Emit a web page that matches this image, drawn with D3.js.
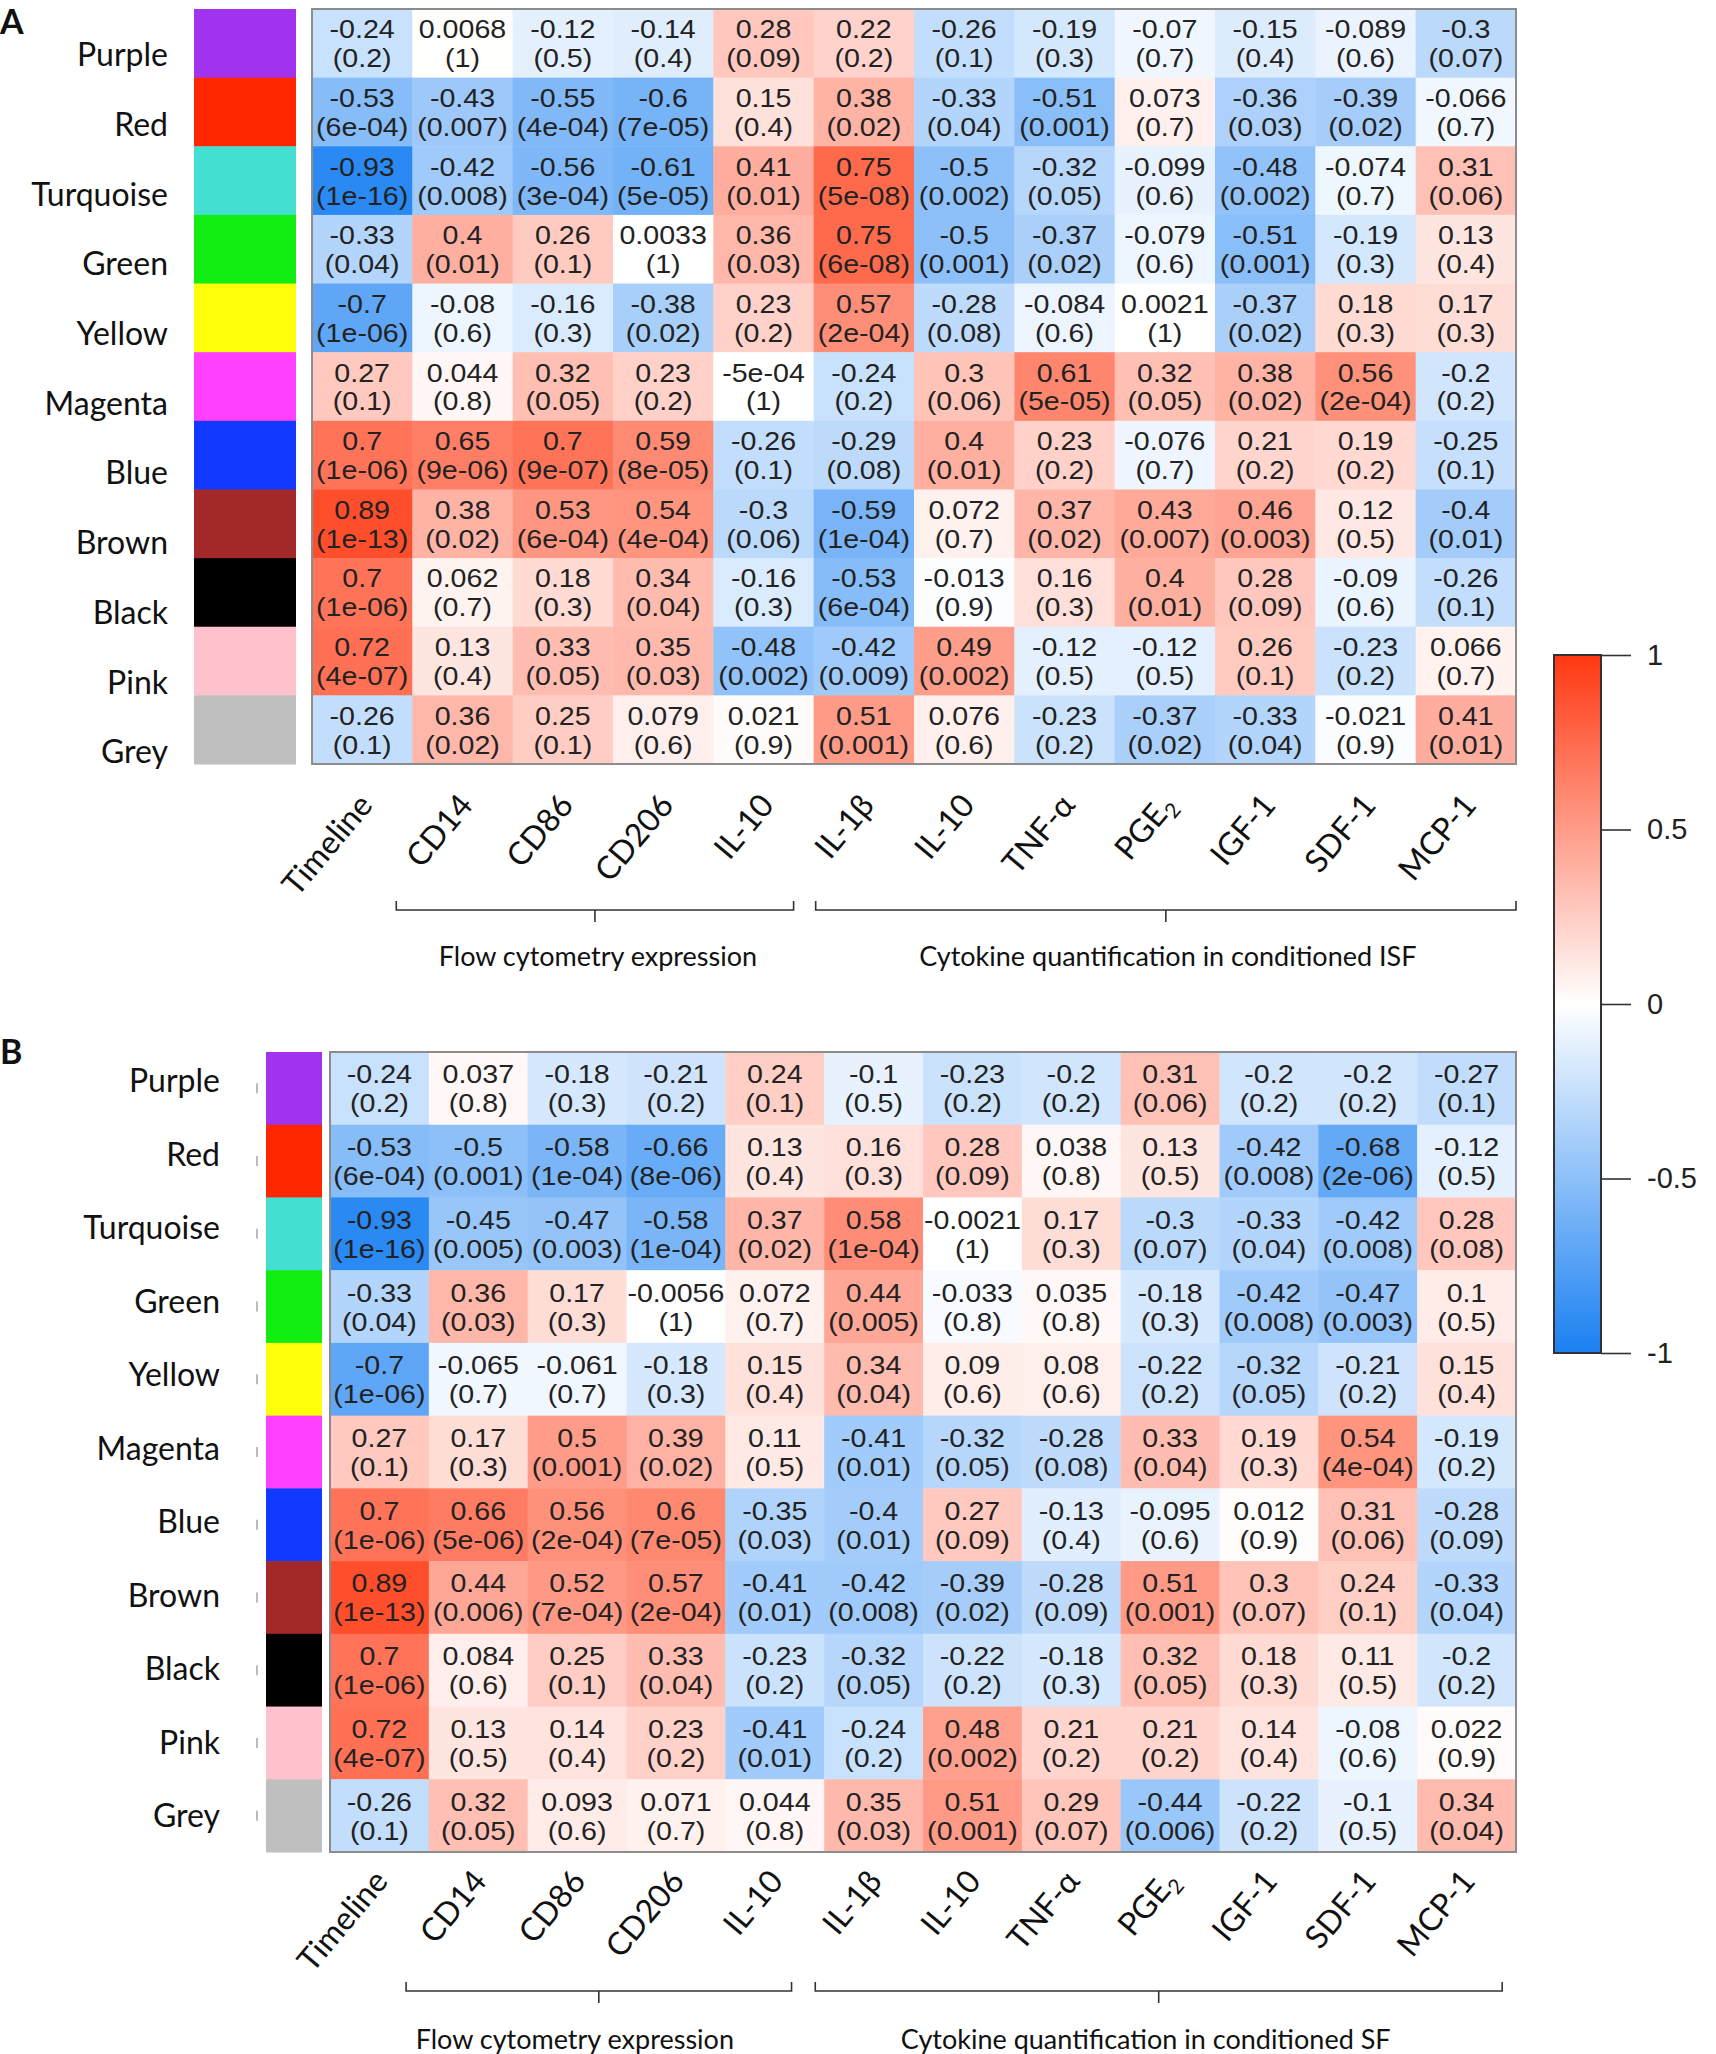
<!DOCTYPE html>
<html>
<head>
<meta charset="utf-8">
<title>Module-trait correlation heatmaps</title>
<style>
  body { margin: 0; background: #fff; }
  svg { display: block; }
  .num { font-family: "Liberation Sans", Arial, sans-serif; fill: #222; font-size: 26px; }
  .lab { font-family: Lato, "Open Sans", sans-serif; fill: #111; }
  .cbar text { font-family: "Liberation Sans", Arial, sans-serif; font-size: 29px; fill: #222; }
</style>
<script src="https://d3js.org/d3.v7.min.js"></script>
</head>
<body>
<script>
// modules (rows) and their swatch colours
var modules = ["Purple", "Red", "Turquoise", "Green", "Yellow", "Magenta", "Blue", "Brown", "Black", "Pink", "Grey"];
var moduleColors = ["#a133ef", "#ff2600", "#43e0d2", "#12ee12", "#ffff0a", "#ff40ff", "#1038ff", "#a3282a", "#000000", "#ffc2cc", "#bfbfbf"];

// traits (columns)
var traits = ["Timeline", "CD14", "CD86", "CD206", "IL-10", "IL-1β", "IL-10", "TNF-α", "PGE2", "IGF-1", "SDF-1", "MCP-1"];
var groupsA = ["Flow cytometry expression", "Cytokine quantification in conditioned ISF"];
var groupsB = ["Flow cytometry expression", "Cytokine quantification in conditioned SF"];
var colorTicks = [1, 0.5, 0, -0.5, -1];

// panel A: correlation and p-value
var corA = [
  [-0.24, 0.0068, -0.12, -0.14, 0.28, 0.22, -0.26, -0.19, -0.07, -0.15, -0.089, -0.3],
  [-0.53, -0.43, -0.55, -0.6, 0.15, 0.38, -0.33, -0.51, 0.073, -0.36, -0.39, -0.066],
  [-0.93, -0.42, -0.56, -0.61, 0.41, 0.75, -0.5, -0.32, -0.099, -0.48, -0.074, 0.31],
  [-0.33, 0.4, 0.26, 0.0033, 0.36, 0.75, -0.5, -0.37, -0.079, -0.51, -0.19, 0.13],
  [-0.7, -0.08, -0.16, -0.38, 0.23, 0.57, -0.28, -0.084, 0.0021, -0.37, 0.18, 0.17],
  [0.27, 0.044, 0.32, 0.23, -5e-4, -0.24, 0.3, 0.61, 0.32, 0.38, 0.56, -0.2],
  [0.7, 0.65, 0.7, 0.59, -0.26, -0.29, 0.4, 0.23, -0.076, 0.21, 0.19, -0.25],
  [0.89, 0.38, 0.53, 0.54, -0.3, -0.59, 0.072, 0.37, 0.43, 0.46, 0.12, -0.4],
  [0.7, 0.062, 0.18, 0.34, -0.16, -0.53, -0.013, 0.16, 0.4, 0.28, -0.09, -0.26],
  [0.72, 0.13, 0.33, 0.35, -0.48, -0.42, 0.49, -0.12, -0.12, 0.26, -0.23, 0.066],
  [-0.26, 0.36, 0.25, 0.079, 0.021, 0.51, 0.076, -0.23, -0.37, -0.33, -0.021, 0.41]
];
var pA = [
  [0.2, 1, 0.5, 0.4, 0.09, 0.2, 0.1, 0.3, 0.7, 0.4, 0.6, 0.07],
  [6e-4, 0.007, 4e-4, 7e-5, 0.4, 0.02, 0.04, 0.001, 0.7, 0.03, 0.02, 0.7],
  [1e-16, 0.008, 3e-4, 5e-5, 0.01, 5e-8, 0.002, 0.05, 0.6, 0.002, 0.7, 0.06],
  [0.04, 0.01, 0.1, 1, 0.03, 6e-8, 0.001, 0.02, 0.6, 0.001, 0.3, 0.4],
  [1e-6, 0.6, 0.3, 0.02, 0.2, 2e-4, 0.08, 0.6, 1, 0.02, 0.3, 0.3],
  [0.1, 0.8, 0.05, 0.2, 1, 0.2, 0.06, 5e-5, 0.05, 0.02, 2e-4, 0.2],
  [1e-6, 9e-6, 9e-7, 8e-5, 0.1, 0.08, 0.01, 0.2, 0.7, 0.2, 0.2, 0.1],
  [1e-13, 0.02, 6e-4, 4e-4, 0.06, 1e-4, 0.7, 0.02, 0.007, 0.003, 0.5, 0.01],
  [1e-6, 0.7, 0.3, 0.04, 0.3, 6e-4, 0.9, 0.3, 0.01, 0.09, 0.6, 0.1],
  [4e-7, 0.4, 0.05, 0.03, 0.002, 0.009, 0.002, 0.5, 0.5, 0.1, 0.2, 0.7],
  [0.1, 0.02, 0.1, 0.6, 0.9, 0.001, 0.6, 0.2, 0.02, 0.04, 0.9, 0.01]
];

// panel B: correlation and p-value
var corB = [
  [-0.24, 0.037, -0.18, -0.21, 0.24, -0.1, -0.23, -0.2, 0.31, -0.2, -0.2, -0.27],
  [-0.53, -0.5, -0.58, -0.66, 0.13, 0.16, 0.28, 0.038, 0.13, -0.42, -0.68, -0.12],
  [-0.93, -0.45, -0.47, -0.58, 0.37, 0.58, -0.0021, 0.17, -0.3, -0.33, -0.42, 0.28],
  [-0.33, 0.36, 0.17, -0.0056, 0.072, 0.44, -0.033, 0.035, -0.18, -0.42, -0.47, 0.1],
  [-0.7, -0.065, -0.061, -0.18, 0.15, 0.34, 0.09, 0.08, -0.22, -0.32, -0.21, 0.15],
  [0.27, 0.17, 0.5, 0.39, 0.11, -0.41, -0.32, -0.28, 0.33, 0.19, 0.54, -0.19],
  [0.7, 0.66, 0.56, 0.6, -0.35, -0.4, 0.27, -0.13, -0.095, 0.012, 0.31, -0.28],
  [0.89, 0.44, 0.52, 0.57, -0.41, -0.42, -0.39, -0.28, 0.51, 0.3, 0.24, -0.33],
  [0.7, 0.084, 0.25, 0.33, -0.23, -0.32, -0.22, -0.18, 0.32, 0.18, 0.11, -0.2],
  [0.72, 0.13, 0.14, 0.23, -0.41, -0.24, 0.48, 0.21, 0.21, 0.14, -0.08, 0.022],
  [-0.26, 0.32, 0.093, 0.071, 0.044, 0.35, 0.51, 0.29, -0.44, -0.22, -0.1, 0.34]
];
var pB = [
  [0.2, 0.8, 0.3, 0.2, 0.1, 0.5, 0.2, 0.2, 0.06, 0.2, 0.2, 0.1],
  [6e-4, 0.001, 1e-4, 8e-6, 0.4, 0.3, 0.09, 0.8, 0.5, 0.008, 2e-6, 0.5],
  [1e-16, 0.005, 0.003, 1e-4, 0.02, 1e-4, 1, 0.3, 0.07, 0.04, 0.008, 0.08],
  [0.04, 0.03, 0.3, 1, 0.7, 0.005, 0.8, 0.8, 0.3, 0.008, 0.003, 0.5],
  [1e-6, 0.7, 0.7, 0.3, 0.4, 0.04, 0.6, 0.6, 0.2, 0.05, 0.2, 0.4],
  [0.1, 0.3, 0.001, 0.02, 0.5, 0.01, 0.05, 0.08, 0.04, 0.3, 4e-4, 0.2],
  [1e-6, 5e-6, 2e-4, 7e-5, 0.03, 0.01, 0.09, 0.4, 0.6, 0.9, 0.06, 0.09],
  [1e-13, 0.006, 7e-4, 2e-4, 0.01, 0.008, 0.02, 0.09, 0.001, 0.07, 0.1, 0.04],
  [1e-6, 0.6, 0.1, 0.04, 0.2, 0.05, 0.2, 0.3, 0.05, 0.3, 0.5, 0.2],
  [4e-7, 0.5, 0.4, 0.2, 0.01, 0.2, 0.002, 0.2, 0.2, 0.4, 0.6, 0.9],
  [0.1, 0.05, 0.6, 0.7, 0.8, 0.03, 0.001, 0.07, 0.006, 0.2, 0.5, 0.04]
];

var W = 1716, H = 2054;
var svg = d3.select("body").append("svg")
    .attr("width", W)
    .attr("height", H);

var color = d3.scaleLinear()
    .domain([-1, 0, 1])
    .range(["#1a80f2", "#ffffff", "#ff3812"]);

// R-style signif() printing, with 2-digit exponents
function fmt(v) {
    if (v !== 0 && Math.abs(v) < 1e-3) {
        return v.toExponential(0).replace(/e([+-])(\d)$/, "e$10$2");
    }
    return String(v);
}

function traitLabel(sel, t) {
    if (t === "PGE2") {
        sel.append("tspan").text("PGE");
        sel.append("tspan").attr("dy", 7).style("font-size", "21px").text("2");
    } else {
        sel.text(t);
    }
}

function drawPanel(c) {
    var g = svg.append("g");

    var x = d3.scaleBand().domain(d3.range(traits.length)).range([c.gx0, c.gx1]);
    var y = d3.scaleBand().domain(d3.range(modules.length)).range([c.gy0, c.gy1]);
    var xu = d3.scaleLinear().domain([0, traits.length]).range([c.gx0, c.gx1]);
    var yl = d3.scalePoint().domain(d3.range(modules.length)).range(c.rowLabY);

    g.append("text")
        .attr("class", "lab")
        .attr("x", 0).attr("y", c.labelY)
        .style("font-size", "34px").style("font-weight", "bold")
        .text(c.label);

    // module labels
    g.selectAll(".rowlab").data(modules).enter().append("text")
        .attr("class", "lab")
        .attr("x", c.rowLabX)
        .attr("y", function (d, i) { return yl(i); })
        .attr("dy", "0.35em")
        .attr("text-anchor", "end")
        .style("font-size", "32px")
        .text(function (d) { return d; });

    if (c.tickX) {
        g.selectAll(".rtick").data(modules).enter().append("line")
            .attr("x1", c.tickX).attr("x2", c.tickX)
            .attr("y1", function (d, i) { return y(i) + y.bandwidth() / 2 - 5; })
            .attr("y2", function (d, i) { return y(i) + y.bandwidth() / 2 + 5; })
            .attr("stroke", "#bbb").attr("stroke-width", 2);
    }

    // colour swatches
    g.selectAll(".sw").data(moduleColors).enter().append("rect")
        .attr("x", c.sx0).attr("width", c.sx1 - c.sx0)
        .attr("y", function (d, i) { return y(i); })
        .attr("height", y.bandwidth() + 0.5)
        .attr("fill", function (d) { return d; });

    // cells
    var cells = [];
    c.cor.forEach(function (row, i) {
        row.forEach(function (v, j) {
            cells.push({ r: i, c: j, v: v, p: c.p[i][j] });
        });
    });

    var cell = g.selectAll(".cell").data(cells).enter().append("g")
        .attr("class", "cell");

    cell.append("rect")
        .attr("x", function (d) { return x(d.c); })
        .attr("y", function (d) { return y(d.r); })
        .attr("width", x.bandwidth() + 0.5)
        .attr("height", y.bandwidth() + 0.5)
        .attr("fill", function (d) { return color(d.v); });

    var txt = cell.append("text")
        .attr("class", "num")
        .attr("text-anchor", "middle")
        .attr("transform", function (d) {
            return "translate(" + (x(d.c) + x.bandwidth() / 2) + "," + (y(d.r) + y.bandwidth() / 2) + ") scale(1.1,1)";
        });
    txt.append("tspan").attr("x", 0).attr("y", -5)
        .text(function (d) { return fmt(d.v); });
    txt.append("tspan").attr("x", 0).attr("y", 24)
        .text(function (d) { return "(" + fmt(d.p) + ")"; });

    g.append("rect")
        .attr("x", c.gx0).attr("y", c.gy0)
        .attr("width", c.gx1 - c.gx0).attr("height", c.gy1 - c.gy0)
        .attr("fill", "none").attr("stroke", "#8c8c8c").attr("stroke-width", 2);

    // trait labels
    g.selectAll(".collab").data(traits).enter().append("text")
        .attr("class", "lab")
        .attr("text-anchor", "end")
        .style("font-size", "32px")
        .attr("transform", function (d, i) {
            return "translate(" + (x(i) + x.bandwidth() / 2 + c.colDx) + "," + (c.gy1 + c.colDy) + ") rotate(-50)";
        })
        .each(function (d) { traitLabel(d3.select(this), d); });

    // group brackets
    var spans = [c.flow, c.cyt];
    var groups = c.groups;
    spans.forEach(function (s, k) {
        var x0 = xu(s[0]), x1 = xu(s[1]), m = (x0 + x1) / 2;
        g.append("path")
            .attr("d", "M" + x0 + "," + (c.brY - 9) + "V" + c.brY + "H" + x1 + "V" + (c.brY - 9) +
                "M" + m + "," + c.brY + "V" + (c.brY + 12))
            .attr("fill", "none").attr("stroke", "#333").attr("stroke-width", 1.6);
        g.append("text")
            .attr("class", "lab")
            .attr("x", m + c.grpDx[k]).attr("y", c.grpY)
            .attr("text-anchor", "middle")
            .style("font-size", "27px")
            .text(groups[k]);
    });
}

drawPanel({
    label: "A", labelY: 34, cor: corA, p: pA, groups: groupsA,
    sx0: 194, sx1: 296, gx0: 312, gx1: 1516, gy0: 9, gy1: 764,
    rowLabX: 168, rowLabY: [55, 752], colDx: 12, colDy: 42,
    brY: 910, flow: [0.84, 4.8], cyt: [5.02, 12], grpY: 966, grpDx: [3, 2]
});

drawPanel({
    label: "B", labelY: 1064, cor: corB, p: pB, groups: groupsB,
    sx0: 266, sx1: 322, gx0: 330, gx1: 1516, gy0: 1052, gy1: 1852,
    rowLabX: 220, rowLabY: [1081, 1816], colDx: 10, colDy: 30, tickX: 257,
    brY: 1991, flow: [0.77, 4.67], cyt: [4.91, 11.86], grpY: 2049, grpDx: [-24, -13]
});

// colour key
var cb = { x0: 1554, x1: 1601, y0: 655, y1: 1353 };
var cy = d3.scaleLinear().domain([-1, 1]).range([cb.y1, cb.y0]);

var grad = svg.append("defs").append("linearGradient")
    .attr("id", "cgrad")
    .attr("x1", 0).attr("y1", 1).attr("x2", 0).attr("y2", 0);
grad.selectAll("stop").data(d3.range(-1, 1.001, 0.1)).enter().append("stop")
    .attr("offset", function (d) { return (d + 1) / 2; })
    .attr("stop-color", function (d) { return color(d); });

svg.append("rect")
    .attr("x", cb.x0).attr("y", cb.y0)
    .attr("width", cb.x1 - cb.x0).attr("height", cb.y1 - cb.y0)
    .attr("fill", "url(#cgrad)")
    .attr("stroke", "#333").attr("stroke-width", 2);

var axis = d3.axisRight(cy)
    .tickValues(colorTicks)
    .tickSize(30)
    .tickPadding(16)
    .tickFormat(function (d) { return String(d); });

svg.append("g")
    .attr("class", "cbar")
    .attr("transform", "translate(" + cb.x1 + ",0)")
    .call(axis)
    .call(function (s) { s.select(".domain").remove(); })
    .call(function (s) { s.selectAll("line").attr("stroke", "#333").attr("stroke-width", 1.6); });
</script>
</body>
</html>
